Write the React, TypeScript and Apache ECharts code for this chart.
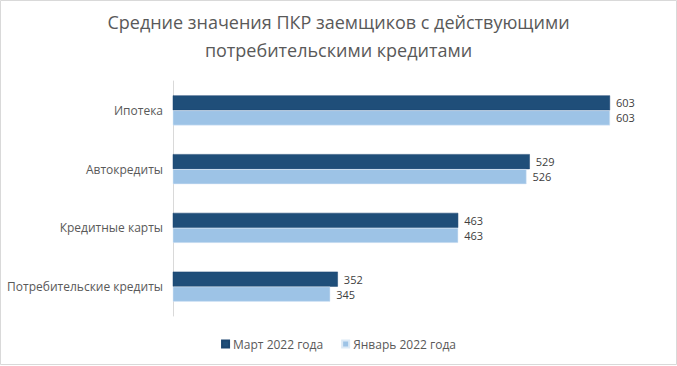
import React, { useEffect, useRef } from "react";
import * as echarts from "echarts";

const categories = ["Ипотека", "Автокредиты", "Кредитные карты", "Потребительские кредиты"];
const march2022 = [603, 529, 463, 352];
const january2022 = [603, 526, 463, 345];
const seriesNames = ["Март 2022 года", "Январь 2022 года"];
const titleText = "Средние значения ПКР заемщиков с действующими\nпотребительскими кредитами";

export default function App() {
  const ref = useRef<HTMLDivElement>(null);
  useEffect(() => {
    if (!ref.current) return;
    const chart = echarts.init(ref.current, null, { renderer: "svg" });
    const font = "'Open Sans', 'Noto Sans', sans-serif";
    const labelStyle = {
      show: true,
      position: "right",
      distance: 6,
      fontFamily: font,
      fontSize: 11,
      lineHeight: 12,
      color: "#404040",
    };
    chart.setOption({
      animation: false,
      backgroundColor: "#ffffff",
      title: {
        text: titleText,
        left: "center",
        top: 3,
        textStyle: {
          fontFamily: font,
          fontSize: 18,
          fontWeight: "normal",
          color: "#595959",
          lineHeight: 28,
        },
      },
      legend: {
        bottom: 11,
        left: "center",
        itemWidth: 7,
        itemHeight: 7,
        itemGap: 18,
        icon: "rect",
        textStyle: { fontFamily: font, fontSize: 12, color: "#595959", padding: [0, 0, 0, -1] },
        data: seriesNames,
      },
      grid: { left: 173, right: 16, top: 81, height: 235 },
      xAxis: {
        type: "value",
        min: 200,
        max: 650,
        show: false,
      },
      yAxis: {
        type: "category",
        inverse: true,
        data: categories,
        axisLine: { show: true, lineStyle: { color: "#d9d9d9" } },
        axisTick: { show: false },
        axisLabel: { fontFamily: font, fontSize: 12, color: "#595959", margin: 10 },
      },
      series: [
        {
          name: seriesNames[0],
          type: "bar",
          data: march2022,
          barWidth: 15,
          barGap: "0%",
          itemStyle: { color: "#1f4e79", borderColor: "#1a4570", borderWidth: 0.5 },
          label: labelStyle,
        },
        {
          name: seriesNames[1],
          type: "bar",
          data: january2022,
          barWidth: 15,
          barGap: "0%",
          itemStyle: { color: "#9dc3e6", borderColor: "#dbe9f6", borderWidth: 0.5 },
          label: labelStyle,
        },
      ],
      graphic: [
        {
          type: "rect",
          shape: { x: 0.5, y: 0.5, width: 676, height: 364 },
          style: { fill: "none", stroke: "#d9d9d9", lineWidth: 1 },
          silent: true,
        },
      ],
    });
    return () => chart.dispose();
  }, []);
  return (
    <div style={{ position: "fixed", left: 0, top: 0, width: 677, height: 366, background: "#fff" }}>
      <div ref={ref} style={{ width: 677, height: 366 }} />
    </div>
  );
}
